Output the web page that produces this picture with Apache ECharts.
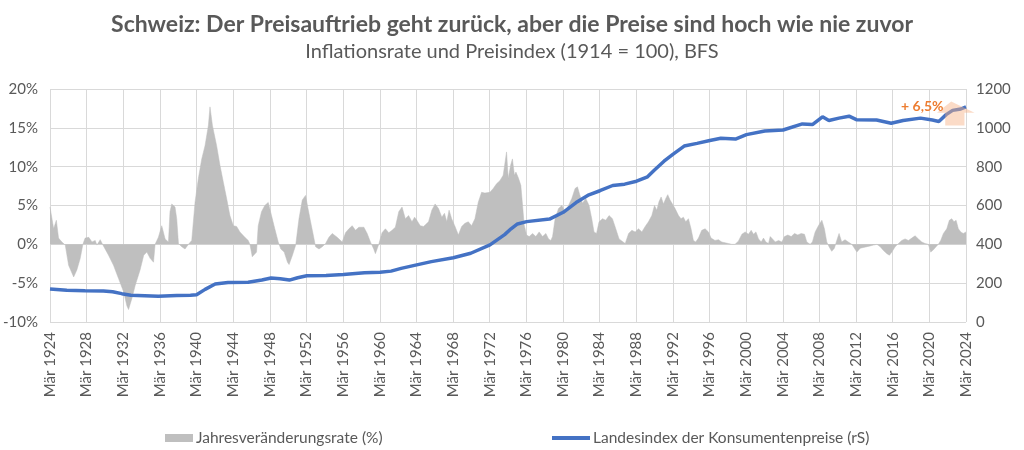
<!DOCTYPE html>
<html>
<head>
<meta charset="utf-8">
<script src="https://cdn.jsdelivr.net/npm/echarts@6/dist/echarts.min.js"></script>
<style>html,body{margin:0;padding:0;background:#fff}#c{width:1024px;height:450px}</style>
</head>
<body>
<div id="c"></div>
<script>
// Inflation (Jahresveränderungsrate, %) — decimal year, value
const inflDates = [1924.17,1924.28,1924.57,1924.86,1925.10,1925.47,1925.83,1926.20,1926.75,1927.10,1927.47,1927.76,1928.00,1928.40,1928.75,1929.10,1929.29,1929.65,1930.00,1930.56,1931.10,1931.65,1932.20,1932.56,1932.74,1933.10,1933.47,1934.00,1934.40,1934.74,1935.10,1935.47,1935.64,1936.00,1936.37,1936.73,1937.10,1937.27,1937.46,1937.82,1938.00,1938.19,1938.55,1938.91,1939.09,1939.28,1939.64,1939.82,1940.00,1940.37,1940.73,1941.09,1941.46,1941.63,1941.90,1942.11,1942.36,1942.72,1943.09,1943.45,1943.81,1944.18,1944.54,1944.90,1945.44,1945.81,1945.99,1946.25,1946.47,1946.72,1946.90,1947.26,1947.62,1947.99,1948.35,1948.71,1949.08,1949.37,1949.73,1950.09,1950.27,1950.63,1950.99,1951.35,1951.71,1952.07,1952.33,1952.62,1952.91,1953.16,1953.53,1953.89,1954.25,1954.62,1954.98,1955.52,1956.07,1956.43,1956.80,1957.16,1957.52,1957.88,1958.43,1958.79,1959.15,1959.51,1959.69,1960.06,1960.42,1960.78,1961.15,1961.51,1961.87,1962.24,1962.60,1962.96,1963.32,1963.68,1963.97,1964.22,1964.58,1964.95,1965.49,1965.85,1966.21,1966.58,1966.94,1967.23,1967.48,1967.73,1968.02,1968.38,1968.75,1969.11,1969.47,1969.83,1970.19,1970.56,1970.92,1971.28,1971.64,1972.19,1972.56,1972.92,1973.28,1973.64,1974.01,1974.19,1974.46,1974.65,1974.87,1975.03,1975.32,1975.57,1975.76,1975.93,1976.19,1976.48,1976.85,1977.21,1977.57,1977.94,1978.30,1978.59,1978.84,1979.03,1979.31,1979.68,1980.04,1980.40,1980.77,1981.13,1981.49,1981.75,1982.00,1982.30,1982.66,1983.02,1983.31,1983.56,1983.83,1984.11,1984.48,1984.84,1985.20,1985.57,1985.93,1986.29,1986.73,1986.97,1987.15,1987.33,1987.69,1988.05,1988.42,1988.78,1989.14,1989.50,1989.87,1990.16,1990.41,1990.66,1990.88,1991.14,1991.39,1991.61,1991.86,1992.12,1992.41,1992.78,1993.06,1993.32,1993.57,1993.87,1994.15,1994.41,1994.66,1994.96,1995.32,1995.68,1996.05,1996.33,1996.77,1997.14,1997.50,1997.86,1998.23,1998.59,1998.95,1999.32,1999.70,2000.06,2000.42,2000.72,2000.97,2001.23,2001.52,2001.81,2002.06,2002.32,2002.61,2002.79,2003.04,2003.34,2003.70,2004.07,2004.35,2004.72,2005.08,2005.44,2005.81,2006.17,2006.53,2006.79,2007.15,2007.40,2007.70,2008.06,2008.43,2008.71,2008.97,2009.22,2009.51,2009.80,2010.06,2010.31,2010.60,2010.96,2011.32,2011.70,2011.98,2012.26,2012.62,2012.98,2013.35,2013.71,2014.07,2014.44,2014.80,2015.16,2015.53,2015.81,2016.07,2016.43,2016.79,2017.16,2017.52,2017.88,2018.25,2018.61,2018.97,2019.34,2019.70,2020.06,2020.32,2020.61,2020.90,2021.15,2021.41,2021.70,2022.07,2022.35,2022.61,2022.86,2023.08,2023.33,2023.59,2023.87,2024.17];
const inflValues = [4.8,4.6,2.0,3.1,0.8,0.3,-0.1,-2.7,-4.2,-3.3,-1.8,0,0.8,0.9,0.3,0.5,-0.1,0.6,-0.2,-1.4,-2.7,-4.4,-6.1,-7.9,-8.4,-7.0,-5.3,-3.3,-1.4,-1.0,-1.8,-2.3,0,0.9,2.4,0.7,0.3,4.2,5.2,4.8,3.3,0.1,-0.3,-0.6,-0.8,0,0.5,0.7,5.4,8.5,11.0,12.7,15.3,17.7,15.3,15.1,12.7,10.2,8.0,5.9,3.7,2.4,2.3,1.6,0.9,0.5,0,-1.6,-1.8,-1.0,2.4,4.2,5.0,5.4,3.7,2.0,0.3,-0.6,-1.0,-2.3,-2.6,-1.4,-0.1,3.3,5.7,6.3,4.6,2.9,1.2,-0.3,-0.6,-0.3,0.1,0.9,1.4,0.9,0.3,1.5,2.0,2.4,1.8,2.2,2.2,1.4,0.3,-0.6,-1.2,0,1.5,2.0,1.5,1.8,2.2,4.2,4.8,3.3,3.7,2.9,3.5,3.1,2.4,2.3,2.9,4.4,5.2,4.6,3.5,4.0,2.9,4.4,3.3,2.3,1.2,2.3,2.7,2.9,2.4,3.3,5.4,6.7,6.6,6.7,7.2,7.8,8.2,8.9,11.9,8.5,10.2,11.0,8.9,9.3,8.5,7.6,5.0,2.5,1.2,1.0,1.4,1.0,1.6,1.0,1.4,0.7,0.5,1.0,3.3,4.6,5.0,4.2,5.0,5.9,7.2,7.4,6.4,5.3,5.9,5.0,3.3,1.6,1.4,2.9,3.3,3.1,3.7,3.3,2.0,0.7,0.3,0.1,0,1.4,1.8,1.6,2.0,1.6,2.3,2.9,3.7,5.0,4.4,5.5,6.1,5.2,5.9,6.4,5.7,5.2,4.6,3.7,3.3,3.5,2.9,3.3,2.0,0.5,0.3,0.8,1.8,2.0,1.6,0.8,0.5,0.6,0.3,0.2,0.1,0,0,0.4,1.3,1.6,1.3,1.8,1.3,1.6,0.7,0.3,0.8,0.3,0.1,1.0,0.7,0.3,0.5,0.3,1.0,1.2,1.0,1.4,1.2,1.4,1.3,0.3,0,0.3,1.6,2.4,3.1,2.0,0.3,-0.3,-0.9,-0.5,0.5,1.4,0.3,0.6,0.3,0,-0.5,-1.0,-0.5,-0.4,-0.3,-0.2,-0.1,0,-0.3,-0.8,-1.2,-1.4,-1.0,-0.3,0.1,0.5,0.7,0.5,0.8,1.1,0.7,0.3,0.1,0,-1.0,-0.7,-0.3,0,0.5,1.4,2.0,3.1,3.3,2.9,3.1,2.0,1.6,1.4,1.6];

// Landesindex der Konsumentenpreise (1914 = 100) — decimal year, value
const cpiDates = [1924.17,1926.0,1928.0,1930.0,1931.0,1932.0,1933.0,1934.5,1936.0,1938.0,1939.5,1940.17,1941.1,1942.2,1943.6,1945.8,1947.3,1948.3,1949.3,1950.3,1951.2,1952.2,1954.3,1956.2,1958.5,1960.2,1961.4,1962.5,1964.2,1965.8,1968.2,1970.1,1972.2,1973.8,1974.5,1975.2,1976.2,1978.7,1980.2,1981.6,1983.0,1984.2,1985.6,1986.9,1988.2,1989.4,1990.1,1991.2,1992.2,1993.4,1994.8,1996.2,1997.4,1999.0,2000.2,2002.2,2004.2,2006.3,2007.4,2008.5,2009.2,2010.3,2011.4,2012.2,2014.4,2016.0,2017.3,2019.2,2020.5,2021.2,2022.0,2022.7,2023.6,2024.17];
const cpiValues = [170,163,161,160,156,146,138,135,132,137,138,140,168,196,204,205,216,227,223,216,228,238,239,245,254,256,262,276,294,311,331,354,397,450,480,505,517,530,565,615,655,676,703,710,725,748,780,828,865,906,920,935,946,942,965,984,989,1020,1017,1057,1038,1050,1060,1042,1040,1024,1038,1050,1040,1033,1068,1090,1097,1108];

const startYear = 1924;          // x-axis starts at "Mär 1924"
const leftTicks = [-10, 20, 5];  // min, max, step (%)
const rightTicks = [0, 1200, 200];
const annotationText = '+ 6,5%';

const toMonth = d => Math.round((d - (startYear + 2/12)) * 12 * 10) / 10;
const inflData = inflDates.map((d, i) => [toMonth(d), inflValues[i]]);
const cpiData = cpiDates.map((d, i) => [toMonth(d), cpiValues[i]]);

const FONT = 'Lato, "Noto Sans", sans-serif';
const GREY = '#595959';

const chart = echarts.init(document.getElementById('c'), null, {renderer: 'canvas'});
const option = {
  animation: false,
  backgroundColor: '#fff',
  textStyle: {fontFamily: FONT},
  title: {
    text: 'Schweiz: Der Preisauftrieb geht zurück, aber die Preise sind hoch wie nie zuvor',
    subtext: 'Inflationsrate und Preisindex (1914 = 100), BFS',
    left: 'center', top: 8, itemGap: 6,
    textStyle: {fontFamily: FONT, fontSize: 23, fontWeight: 'bold', color: GREY},
    subtextStyle: {fontFamily: FONT, fontSize: 20, color: GREY}
  },
  grid: {left: 48, right: 58, top: 89, bottom: 128, containLabel: false},
  legend: [
    {data: ['Jahresveränderungsrate (%)'], left: 160, top: 425, icon: 'rect', itemWidth: 28, itemHeight: 8,
     itemGap: 4, textStyle: {fontFamily: FONT, fontSize: 15.5, color: GREY, padding: [0,0,0,-2]}},
    {data: ['Landesindex der Konsumentenpreise (rS)'], left: 547, top: 425, icon: 'rect', itemWidth: 38, itemHeight: 4,
     itemStyle: {color: '#4472C4'},
     textStyle: {fontFamily: FONT, fontSize: 15.5, color: GREY, padding: [0,0,0,-2]}}
  ],
  xAxis: {
    type: 'value', min: 0, max: 1200, interval: 48,
    axisLine: {show: false}, axisTick: {show: false},
    splitLine: {show: true, lineStyle: {color: '#d9d9d9', width: 1}},
    axisLabel: {rotate: 90, margin: 10, color: GREY, fontSize: 15, fontFamily: FONT,
      formatter: v => 'Mär ' + (startYear + v / 12)}
  },
  yAxis: [
    {type: 'value', min: leftTicks[0], max: leftTicks[1], interval: leftTicks[2],
     axisLine: {show: false}, axisTick: {show: false},
     splitLine: {lineStyle: {color: '#d9d9d9', width: 1}},
     axisLabel: {formatter: '{value}%', color: GREY, fontSize: 15, fontFamily: FONT, margin: 12}},
    {type: 'value', min: rightTicks[0], max: rightTicks[1], interval: rightTicks[2],
     axisLine: {show: false}, axisTick: {show: false}, splitLine: {show: false},
     axisLabel: {formatter: v => String(v), color: GREY, fontSize: 15, fontFamily: FONT, margin: 10}}
  ],
  series: [
    {name: 'Jahresveränderungsrate (%)', type: 'line', data: inflData, yAxisIndex: 0,
     showSymbol: false, symbol: 'none', color: '#BFBFBF',
     lineStyle: {width: 0.5, color: '#BFBFBF'}, areaStyle: {color: '#BFBFBF', opacity: 1, origin: 0}, z: 2},
    {name: 'Landesindex der Konsumentenpreise (rS)', type: 'line', data: cpiData, yAxisIndex: 1,
     showSymbol: false, symbol: 'none', color: '#4472C4',
     lineStyle: {width: 3.5, color: '#4472C4'}, z: 3}
  ]
};
chart.setOption(option);

// Annotation arrow (anchored in data coordinates) and label
const P = (yr, v) => chart.convertToPixel({xAxisIndex: 0, yAxisIndex: 1}, [toMonth(yr), v]);
const tip = P(2022.55, 1135), hl = P(2021.0, 1078), hr = P(2025.1, 1078);
const sl = P(2021.9, 1078), sr = P(2024.0, 1078), bl = P(2021.9, 1012), br = P(2024.0, 1012);
chart.setOption({
  graphic: [
    {type: 'polygon', z: 10, shape: {points: [tip, hr, sr, br, bl, sl, hl]},
     style: {fill: 'rgba(247,176,130,0.45)'}},
    {type: 'text', z: 11, left: 901, top: 99,
     style: {text: annotationText, fill: '#ED7D31', font: 'bold 14px ' + FONT}}
  ]
});
</script>
</body>
</html>
